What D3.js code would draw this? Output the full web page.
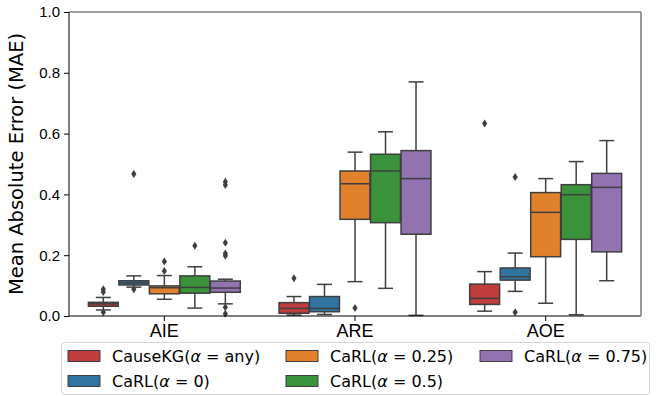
<!DOCTYPE html>
<html>
<head>
<meta charset="utf-8">
<script src="https://cdn.jsdelivr.net/npm/d3@7/dist/d3.min.js"></script>
<style>
  body { margin: 0; background: #fff; }
  svg { font-family: "DejaVu Sans", sans-serif; }
</style>
</head>
<body>
<div id="chart"></div>
<script>
// categories on the x axis
const categories = ['AIE', 'ARE', 'AOE'];

// hue series (legend order)
const seriesNames = ['CauseKG', 'CaRL0', 'CaRL0.25', 'CaRL0.5', 'CaRL0.75'];
const seriesPrefix = ['CauseKG(', 'CaRL(', 'CaRL(', 'CaRL(', 'CaRL('];
const seriesAlpha = ['any', '0', '0.25', '0.5', '0.75'];
const seriesColors = ['#c03d3e', '#3274a1', '#e1812c', '#3a923a', '#9372b2'];

// box stats, one row per series, one column per category (AIE, ARE, AOE)
const whiskerLow = [
  [0.020, 0.003, 0.016],
  [0.095, 0.005, 0.081],
  [0.055, 0.113, 0.042],
  [0.026, 0.091, 0.004],
  [0.040, 0.002, 0.116]
];
const q1 = [
  [0.032, 0.009, 0.038],
  [0.102, 0.014, 0.118],
  [0.073, 0.318, 0.195],
  [0.075, 0.307, 0.252],
  [0.078, 0.269, 0.211]
];
const median = [
  [0.040, 0.025, 0.058],
  [0.109, 0.025, 0.129],
  [0.093, 0.435, 0.341],
  [0.094, 0.477, 0.399],
  [0.092, 0.452, 0.423]
];
const q3 = [
  [0.045, 0.044, 0.105],
  [0.116, 0.064, 0.158],
  [0.099, 0.477, 0.406],
  [0.132, 0.532, 0.432],
  [0.115, 0.544, 0.469]
];
const whiskerHigh = [
  [0.061, 0.064, 0.146],
  [0.132, 0.104, 0.207],
  [0.133, 0.539, 0.452],
  [0.162, 0.606, 0.508],
  [0.121, 0.770, 0.577]
];
const outliers = [
  [[0.088, 0.079, 0.012], [0.124], [0.633]],
  [[0.467, 0.088], [], [0.457, 0.012]],
  [[0.179, 0.148], [0.026], []],
  [[0.231], [], []],
  [[0.442, 0.431, 0.241, 0.206, 0.198, 0.029, 0.007], [], []]
];

const yTicks = [0, 0.2, 0.4, 0.6, 0.8, 1.0];

const W = 659, H = 396;
const margin = { top: 12, right: 18, bottom: 80, left: 69 };
const width = W - margin.left - margin.right;
const height = H - margin.top - margin.bottom;
const edge = '#3f3f3f';

const svg = d3.select('#chart').append('svg')
  .attr('width', W)
  .attr('height', H);

const g = svg.append('g')
  .attr('transform', `translate(${margin.left},${margin.top})`);

const x = d3.scaleBand().domain(categories).range([0, width]);
const xs = d3.scaleBand().domain(seriesNames)
  .range([x.bandwidth() * 0.1, x.bandwidth() * 0.9]);
const y = d3.scaleLinear().domain([0, 1]).range([height, 0]);

// y axis
const yAxis = g.append('g')
  .call(d3.axisLeft(y).tickValues(yTicks).tickFormat(d3.format('.1f')).tickSize(5).tickPadding(4));
yAxis.select('.domain').remove();
yAxis.selectAll('text').style('font-size', '15px').style('fill', '#000');
yAxis.selectAll('line').attr('stroke', '#000');

// x axis
const xAxis = g.append('g')
  .attr('transform', `translate(0,${height})`)
  .call(d3.axisBottom(x).tickSize(5).tickPadding(3));
xAxis.select('.domain').remove();
xAxis.selectAll('text').style('font-size', '18px').style('fill', '#000');
xAxis.selectAll('line').attr('stroke', '#000');

// boxes
const boxW = xs.bandwidth() * 0.98;
seriesNames.forEach((s, si) => {
  categories.forEach((c, ci) => {
    const cx = x(c) + xs(s) + xs.bandwidth() / 2;
    const grp = g.append('g');
    // whiskers
    grp.append('line')
      .attr('x1', cx).attr('x2', cx)
      .attr('y1', y(q3[si][ci])).attr('y2', y(whiskerHigh[si][ci]))
      .attr('stroke', edge).attr('stroke-width', 1.5);
    grp.append('line')
      .attr('x1', cx).attr('x2', cx)
      .attr('y1', y(q1[si][ci])).attr('y2', y(whiskerLow[si][ci]))
      .attr('stroke', edge).attr('stroke-width', 1.5);
    [whiskerHigh[si][ci], whiskerLow[si][ci]].forEach(v => {
      grp.append('line')
        .attr('x1', cx - boxW / 4).attr('x2', cx + boxW / 4)
        .attr('y1', y(v)).attr('y2', y(v))
        .attr('stroke', edge).attr('stroke-width', 1.5);
    });
    // box
    grp.append('rect')
      .attr('x', cx - boxW / 2)
      .attr('y', y(q3[si][ci]))
      .attr('width', boxW)
      .attr('height', y(q1[si][ci]) - y(q3[si][ci]))
      .attr('fill', seriesColors[si])
      .attr('stroke', edge).attr('stroke-width', 1.5);
    grp.append('line')
      .attr('x1', cx - boxW / 2).attr('x2', cx + boxW / 2)
      .attr('y1', y(median[si][ci])).attr('y2', y(median[si][ci]))
      .attr('stroke', edge).attr('stroke-width', 1.5);
    // fliers
    grp.selectAll('path.flier')
      .data(outliers[si][ci])
      .enter().append('path')
      .attr('class', 'flier')
      .attr('d', d => `M${cx},${y(d) - 4}L${cx + 2.6},${y(d)}L${cx},${y(d) + 4}L${cx - 2.6},${y(d)}Z`)
      .attr('fill', edge);
  });
});

// frame
g.append('line').attr('x1', 0).attr('x2', 0).attr('y1', 0).attr('y2', height).attr('stroke', '#000').attr('stroke-width', 1);
g.append('line').attr('x1', 0).attr('x2', width).attr('y1', height).attr('y2', height).attr('stroke', '#000').attr('stroke-width', 1);
g.append('line').attr('x1', 0).attr('x2', width).attr('y1', 0).attr('y2', 0).attr('stroke', '#444').attr('stroke-width', 1);
g.append('line').attr('x1', width).attr('x2', width).attr('y1', 0).attr('y2', height).attr('stroke', '#777').attr('stroke-width', 1.5);

// y label
svg.append('text')
  .attr('transform', `translate(23,${margin.top + height / 2}) rotate(-90)`)
  .attr('text-anchor', 'middle')
  .style('font-size', '19.5px')
  .text('Mean Absolute Error (MAE)');

// legend
const legend = svg.append('g');
legend.append('rect')
  .attr('x', 61.5).attr('y', 342.5)
  .attr('width', 588).attr('height', 52)
  .attr('rx', 3)
  .attr('fill', '#fff').attr('fill-opacity', 0.8)
  .attr('stroke', '#d6d6d6');

const colX = [68, 286, 480];
const rowY = [356, 381];
seriesNames.forEach((s, i) => {
  const col = Math.floor(i / 2), row = i % 2;
  const lx = colX[col], ly = rowY[row];
  legend.append('rect')
    .attr('x', lx).attr('y', ly - 5.5)
    .attr('width', 32).attr('height', 11)
    .attr('fill', seriesColors[i])
    .attr('stroke', edge).attr('stroke-width', 1);
  const t = legend.append('text')
    .attr('x', lx + 44).attr('y', ly)
    .attr('dy', '0.36em')
    .style('font-size', '16px');
  t.append('tspan').text(seriesPrefix[i]);
  t.append('tspan').style('font-style', 'italic').text('α');
  t.append('tspan').text(' = ' + seriesAlpha[i] + ')');
});
</script>
</body>
</html>
